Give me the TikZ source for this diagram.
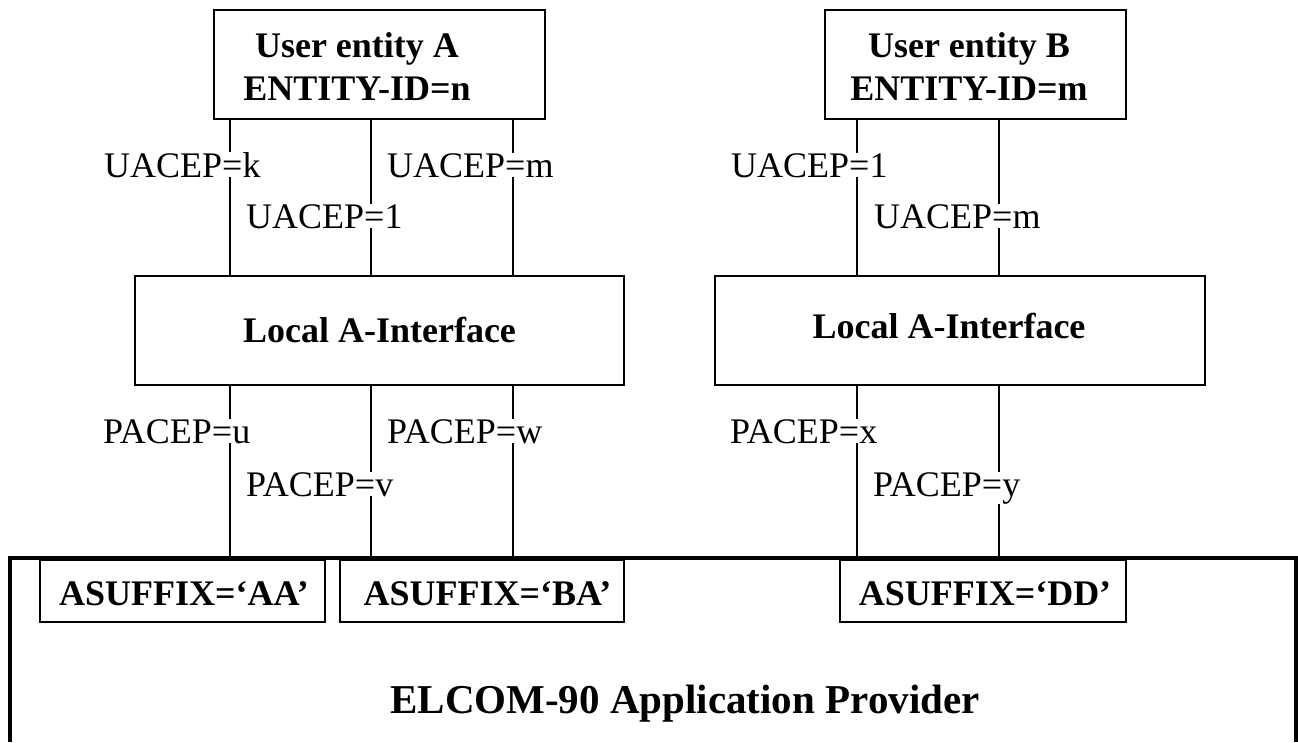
\documentclass[tikz,border=0pt]{standalone}
\usepackage{fontspec}
\setmainfont{Liberation Serif}
\begin{document}
\begin{tikzpicture}[x=1pt,y=-1pt,
  box/.style={draw,line width=1.8pt,inner sep=0pt},
  btext/.style={font=\fontsize{36}{43}\selectfont\bfseries,align=center,inner sep=0pt},
  lbl/.style={font=\fontsize{36}{43}\selectfont,fill=white,inner sep=0pt,anchor=base west},
  conn/.style={line width=1.5pt}]
\useasboundingbox[fill=white] (0,0) rectangle (1298,742);
% boxes
\node[box,minimum width=331pt,minimum height=109pt] (A) at (379.5,64.5) {};
\node[box,minimum width=301pt,minimum height=109pt] (B) at (975.5,64.5) {};
\node[box,minimum width=489pt,minimum height=109pt] (LA) at (379.5,330.5) {};
\node[box,minimum width=490pt,minimum height=109pt] (LB) at (960,330.5) {};
\node[box,minimum width=285pt,minimum height=62pt] (AA) at (182.5,591) {};
\node[box,minimum width=284pt,minimum height=62pt] (BA) at (482,591) {};
\node[box,minimum width=286pt,minimum height=62pt] (DD) at (983,591) {};
% provider frame
\coordinate (PL) at (10,742);
\coordinate (PR) at (1296,742);
\draw[line width=3.2pt] (PL) -- (10,558) -- (1296,558) -- (PR);
% box texts
\node[btext,anchor=base] (tA) at (357,100) {User entity A\\ENTITY-ID=n};
\node[btext,anchor=base] (tB) at (969,100) {User entity B\\ENTITY-ID=m};
\node[btext,anchor=base] (tLA) at (379.5,342) {Local A-Interface};
\node[btext,anchor=base] (tLB) at (949,338) {Local A-Interface};
\node[btext,anchor=base] (tAA) at (184,605) {ASUFFIX=`AA'};
\node[btext,anchor=base] (tBA) at (487.5,605) {ASUFFIX=`BA'};
\node[btext,anchor=base] (tDD) at (985,605) {ASUFFIX=`DD'};
\node[btext,anchor=base,font=\fontsize{41}{49}\selectfont\bfseries] (tP) at (685,713) {ELCOM-90 Application Provider};
% connector columns
\coordinate (c1) at (230,0);
\coordinate (c2) at (371,0);
\coordinate (c3) at (513,0);
\coordinate (c4) at (857,0);
\coordinate (c5) at (999,0);
\foreach \c in {c1,c2,c3}{
  \draw[conn] (\c |- A.south) -- (\c |- LA.north);
  \draw[conn] (\c |- LA.south) -- (\c |- AA.north);
}
\foreach \c in {c4,c5}{
  \draw[conn] (\c |- B.south) -- (\c |- LB.north);
  \draw[conn] (\c |- LB.south) -- (\c |- DD.north);
}
% labels
\node[lbl] (l1) at (104,177) {UACEP=k};
\node[lbl] (l2) at (246,228) {UACEP=1};
\node[lbl] (l3) at (387,177) {UACEP=m};
\node[lbl] (l4) at (731,177) {UACEP=1};
\node[lbl] (l5) at (874,228) {UACEP=m};
\node[lbl] (p1) at (103,443) {PACEP=u};
\node[lbl] (p2) at (246,496) {PACEP=v};
\node[lbl] (p3) at (387,443) {PACEP=w};
\node[lbl] (p4) at (730,443) {PACEP=x};
\node[lbl] (p5) at (873,496) {PACEP=y};
\end{tikzpicture}
\end{document}
